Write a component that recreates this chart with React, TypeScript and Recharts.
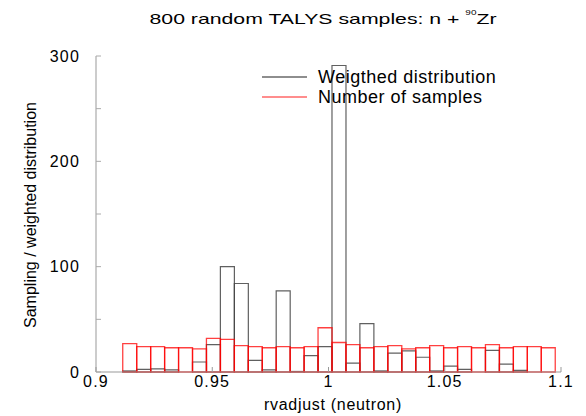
import { ComposedChart, Bar, XAxis, YAxis, Legend } from "recharts";

// bin centres of the rvadjust histogram (31 bins, ~0.006 wide)
const binCenters = [
  0.9145, 0.9205, 0.9265, 0.9325, 0.9385, 0.9445, 0.9505, 0.9565, 0.9625, 0.9685,
  0.9745, 0.9805, 0.9865, 0.9925, 0.9985, 1.0045, 1.0105, 1.0165, 1.0225, 1.0285,
  1.0345, 1.0405, 1.0465, 1.0525, 1.0585, 1.0645, 1.0705, 1.0765, 1.0825, 1.0885,
  1.0945,
];

const weighted = [
  1, 2.5, 3, 2, 0, 9.5, 26, 100, 84, 11,
  2, 77, 0.5, 15.5, 24, 291, 8.5, 46, 1, 18,
  20, 14, 1, 5.5, 2.5, 0, 20.5, 7.5, 1.5, 0,
  0,
];

const samples = [
  27, 24, 24, 23, 23, 22, 32, 31, 25, 24,
  23, 24, 23, 24, 42, 28, 26, 23, 24, 25,
  22, 23, 25, 23, 24, 23, 26, 23, 24, 24,
  23,
];

const xTicks = [0.9, 0.95, 1, 1.05, 1.1];
const yTicks = [0, 50, 100, 150, 200, 250, 300];

const seriesOrder = ["weighted", "samples"];
const seriesNames = { weighted: "Weigthed distribution", samples: "Number of samples" };
const seriesColors = { weighted: "#444", samples: "#ff0000" };

const data = binCenters.map((x, i) => ({
  x,
  weighted: weighted[i],
  samples: samples[i],
}));

const FONT = "'Liberation Sans', Arial, sans-serif";

function LegendBox({ payload }: any) {
  const items = [...(payload || [])].sort(
    (a: any, b: any) => seriesOrder.indexOf(a.dataKey) - seriesOrder.indexOf(b.dataKey)
  );
  return (
    <svg width={270} height={46} style={{ overflow: "visible" }}>
      {items.map((p: any, i: number) => (
        <g key={p.dataKey}>
          <line
            x1={4}
            x2={49}
            y1={15 + i * 20}
            y2={15 + i * 20}
            stroke={seriesColors[p.dataKey as keyof typeof seriesColors]}
            strokeOpacity={p.dataKey === "samples" ? 0.6 : 0.8}
            strokeWidth={1.5}
          />
          <text x={60} y={21 + i * 20} fontSize={18} letterSpacing={0.5} fill="#000" fontFamily={FONT}>
            {p.value}
          </text>
        </g>
      ))}
    </svg>
  );
}

export default function App() {
  return (
    <div
      style={{
        position: "absolute",
        left: 0,
        top: 0,
        width: 586,
        height: 416,
        background: "#fff",
        fontFamily: FONT,
      }}
    >
      <ComposedChart
        width={586}
        height={416}
        data={data}
        margin={{ top: 56, right: 25, bottom: 0, left: 0 }}
        barCategoryGap={0}
        barGap={0}
      >
        <XAxis
          dataKey="x"
          type="number"
          domain={[0.9, 1.1]}
          ticks={xTicks}
          height={44}
          tickSize={-5}
          tickMargin={9}
          tick={{ fontSize: 16, fill: "#000", letterSpacing: 1.2 }}
          axisLine={{ stroke: "#999" }}
          tickLine={{ stroke: "#999" }}
        />
        <XAxis
          xAxisId="b"
          dataKey="x"
          type="number"
          domain={[0.9, 1.1]}
          ticks={xTicks}
          hide
        />
        <XAxis
          xAxisId="top"
          orientation="top"
          type="number"
          domain={[0.9, 1.1]}
          ticks={xTicks}
          height={0}
          tick={false}
          tickLine={false}
          axisLine={{ stroke: "#aaa" }}
        />
        <YAxis
          type="number"
          domain={[0, 300]}
          ticks={yTicks}
          width={96}
          tickSize={-5}
          tickMargin={21}
          tickFormatter={(v: number) => (v % 100 === 0 ? String(v) : "")}
          tick={{ fontSize: 16, fill: "#000", letterSpacing: 1.2 }}
          axisLine={{ stroke: "#999" }}
          tickLine={{ stroke: "#aaa" }}
        />
        <YAxis
          yAxisId="right"
          orientation="right"
          type="number"
          domain={[0, 300]}
          width={0}
          tick={false}
          tickLine={false}
          axisLine={{ stroke: "#aaa" }}
        />
        <Legend
          layout="vertical"
          align="center"
          verticalAlign="middle"
          content={<LegendBox />}
          wrapperStyle={{ left: 258, top: 62, width: 270, height: 46 }}
        />
        <Bar
          dataKey="weighted"
          name={seriesNames.weighted}
          fill="none"
          stroke={seriesColors.weighted}
          strokeOpacity={0.85}
          strokeWidth={1.2}
          isAnimationActive={false}
        />
        <Bar
          dataKey="samples"
          xAxisId="b"
          name={seriesNames.samples}
          fill="none"
          stroke={seriesColors.samples}
          strokeOpacity={0.75}
          strokeWidth={1.3}
          isAnimationActive={false}
        />
      </ComposedChart>
      <svg
        width={586}
        height={416}
        style={{ position: "absolute", left: 0, top: 0, pointerEvents: "none" }}
      >
        <text
          x={323}
          y={24}
          textAnchor="middle"
          fontSize={15}
          textLength={347}
          lengthAdjust="spacingAndGlyphs"
          fontFamily={FONT}
        >
          800 random TALYS samples: n +{" "}
          <tspan fontSize={7} dy={-9}>90</tspan>
          <tspan dy={9}>Zr</tspan>
        </text>
        <text
          transform="translate(36,215) rotate(-90)"
          textAnchor="middle"
          fontSize={16}
          fontFamily={FONT}
        >
          Sampling / weighted distribution
        </text>
        <text x={333} y={410} textAnchor="middle" fontSize={16} letterSpacing={0.7} fontFamily={FONT}>
          rvadjust (neutron)
        </text>
      </svg>
    </div>
  );
}
